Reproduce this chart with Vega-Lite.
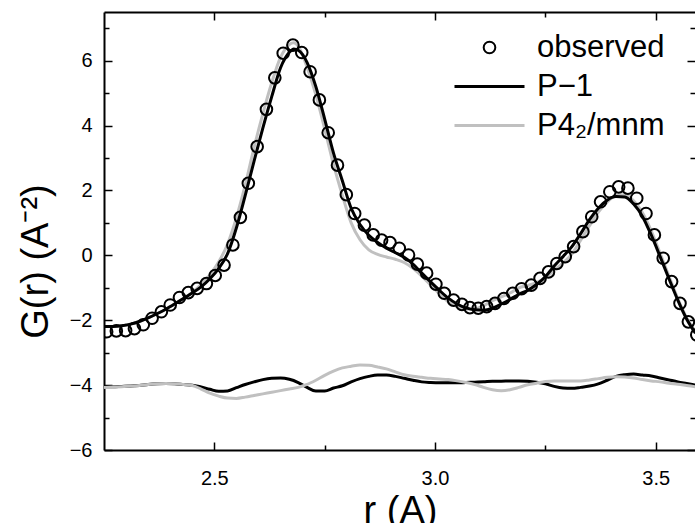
{
  "$schema": "https://vega.github.io/schema/vega-lite/v6.json",
  "autosize": "none",
  "width": 591,
  "height": 438,
  "padding": {"left": 104, "top": 12, "right": 0, "bottom": 73},
  "background": "white",
  "config": {
    "view": {"stroke": null},
    "axis": {"grid": false, "domainColor": "black", "domainWidth": 2, "tickColor": "black", "tickWidth": 1.5, "labelFont": "Liberation Sans", "labelFontSize": 20, "labelColor": "black", "titleFont": "Liberation Sans", "titleFontWeight": "normal", "titleColor": "black", "titleFontSize": 38}
  },
  "datasets": {
    "obs": [
      {"r": 2.256, "G": -2.355}, {"r": 2.278, "G": -2.33}, {"r": 2.299, "G": -2.32}, {"r": 2.319, "G": -2.26},
      {"r": 2.339, "G": -2.14}, {"r": 2.359, "G": -1.94}, {"r": 2.38, "G": -1.74}, {"r": 2.4, "G": -1.53},
      {"r": 2.421, "G": -1.3}, {"r": 2.441, "G": -1.15}, {"r": 2.461, "G": -1.02}, {"r": 2.482, "G": -0.87},
      {"r": 2.502, "G": -0.62}, {"r": 2.522, "G": -0.3}, {"r": 2.542, "G": 0.32}, {"r": 2.559, "G": 1.17},
      {"r": 2.577, "G": 2.22}, {"r": 2.597, "G": 3.35}, {"r": 2.618, "G": 4.5}, {"r": 2.637, "G": 5.47},
      {"r": 2.656, "G": 6.23}, {"r": 2.678, "G": 6.48}, {"r": 2.698, "G": 6.25}, {"r": 2.717, "G": 5.66},
      {"r": 2.738, "G": 4.79}, {"r": 2.758, "G": 3.78}, {"r": 2.779, "G": 2.78}, {"r": 2.799, "G": 1.87},
      {"r": 2.818, "G": 1.29}, {"r": 2.84, "G": 0.93}, {"r": 2.86, "G": 0.63}, {"r": 2.879, "G": 0.47},
      {"r": 2.898, "G": 0.39}, {"r": 2.919, "G": 0.22}, {"r": 2.94, "G": 0.01}, {"r": 2.96, "G": -0.27},
      {"r": 2.981, "G": -0.55}, {"r": 3.002, "G": -0.89}, {"r": 3.021, "G": -1.17}, {"r": 3.042, "G": -1.38},
      {"r": 3.061, "G": -1.51}, {"r": 3.079, "G": -1.61}, {"r": 3.098, "G": -1.63}, {"r": 3.117, "G": -1.58},
      {"r": 3.136, "G": -1.48}, {"r": 3.156, "G": -1.33}, {"r": 3.176, "G": -1.17}, {"r": 3.196, "G": -1.03},
      {"r": 3.218, "G": -0.92}, {"r": 3.238, "G": -0.71}, {"r": 3.257, "G": -0.51}, {"r": 3.276, "G": -0.25},
      {"r": 3.295, "G": -0.04}, {"r": 3.314, "G": 0.27}, {"r": 3.335, "G": 0.73}, {"r": 3.355, "G": 1.19},
      {"r": 3.375, "G": 1.65}, {"r": 3.396, "G": 1.96}, {"r": 3.416, "G": 2.11}, {"r": 3.437, "G": 2.07},
      {"r": 3.457, "G": 1.76}, {"r": 3.478, "G": 1.29}, {"r": 3.497, "G": 0.63}, {"r": 3.517, "G": -0.09},
      {"r": 3.536, "G": -0.81}, {"r": 3.555, "G": -1.48}, {"r": 3.574, "G": -2.05}, {"r": 3.593, "G": -2.45}
    ],
    "fit": [
      {"r": 2.25, "p1": -2.19, "p4": -2.19}, {"r": 2.27, "p1": -2.19, "p4": -2.19}, {"r": 2.29, "p1": -2.17, "p4": -2.17},
      {"r": 2.31, "p1": -2.12, "p4": -2.12}, {"r": 2.33, "p1": -2.04, "p4": -2.04}, {"r": 2.35, "p1": -1.93, "p4": -1.93},
      {"r": 2.37, "p1": -1.8, "p4": -1.8}, {"r": 2.39, "p1": -1.66, "p4": -1.66}, {"r": 2.41, "p1": -1.5, "p4": -1.5},
      {"r": 2.43, "p1": -1.33, "p4": -1.33}, {"r": 2.45, "p1": -1.16, "p4": -1.14}, {"r": 2.47, "p1": -0.97, "p4": -0.9},
      {"r": 2.49, "p1": -0.72, "p4": -0.6}, {"r": 2.51, "p1": -0.4, "p4": -0.2}, {"r": 2.53, "p1": 0.05, "p4": 0.35},
      {"r": 2.55, "p1": 0.85, "p4": 1.16}, {"r": 2.57, "p1": 1.85, "p4": 2.17}, {"r": 2.59, "p1": 2.9, "p4": 3.32},
      {"r": 2.61, "p1": 3.93, "p4": 4.37}, {"r": 2.63, "p1": 4.89, "p4": 5.32}, {"r": 2.65, "p1": 5.78, "p4": 6.1},
      {"r": 2.67, "p1": 6.26, "p4": 6.5}, {"r": 2.68, "p1": 6.36, "p4": 6.55}, {"r": 2.69, "p1": 6.32, "p4": 6.45},
      {"r": 2.71, "p1": 5.95, "p4": 5.8}, {"r": 2.73, "p1": 5.2, "p4": 4.95}, {"r": 2.75, "p1": 4.2, "p4": 3.9},
      {"r": 2.77, "p1": 3.15, "p4": 2.8}, {"r": 2.79, "p1": 2.3, "p4": 1.85}, {"r": 2.81, "p1": 1.45, "p4": 1.0},
      {"r": 2.83, "p1": 0.95, "p4": 0.48}, {"r": 2.85, "p1": 0.62, "p4": 0.17}, {"r": 2.87, "p1": 0.4, "p4": 0.03},
      {"r": 2.89, "p1": 0.22, "p4": -0.05}, {"r": 2.91, "p1": 0.08, "p4": -0.12}, {"r": 2.93, "p1": -0.06, "p4": -0.22},
      {"r": 2.95, "p1": -0.27, "p4": -0.4}, {"r": 2.97, "p1": -0.55, "p4": -0.64}, {"r": 2.99, "p1": -0.82, "p4": -0.91},
      {"r": 3.01, "p1": -1.08, "p4": -1.19}, {"r": 3.03, "p1": -1.32, "p4": -1.43}, {"r": 3.05, "p1": -1.5, "p4": -1.58},
      {"r": 3.07, "p1": -1.62, "p4": -1.66}, {"r": 3.09, "p1": -1.68, "p4": -1.65}, {"r": 3.11, "p1": -1.69, "p4": -1.55},
      {"r": 3.13, "p1": -1.63, "p4": -1.4}, {"r": 3.15, "p1": -1.5, "p4": -1.28}, {"r": 3.17, "p1": -1.36, "p4": -1.16},
      {"r": 3.19, "p1": -1.2, "p4": -1.0}, {"r": 3.21, "p1": -1.08, "p4": -0.93}, {"r": 3.23, "p1": -0.9, "p4": -0.84},
      {"r": 3.25, "p1": -0.66, "p4": -0.68}, {"r": 3.27, "p1": -0.33, "p4": -0.46}, {"r": 3.29, "p1": -0.04, "p4": -0.23},
      {"r": 3.31, "p1": 0.27, "p4": 0.04}, {"r": 3.33, "p1": 0.67, "p4": 0.47}, {"r": 3.35, "p1": 1.1, "p4": 0.91},
      {"r": 3.37, "p1": 1.45, "p4": 1.33}, {"r": 3.39, "p1": 1.7, "p4": 1.64}, {"r": 3.41, "p1": 1.81, "p4": 1.84},
      {"r": 3.43, "p1": 1.8, "p4": 1.87}, {"r": 3.45, "p1": 1.58, "p4": 1.68}, {"r": 3.47, "p1": 1.2, "p4": 1.31},
      {"r": 3.49, "p1": 0.62, "p4": 0.75}, {"r": 3.51, "p1": -0.04, "p4": 0.06}, {"r": 3.53, "p1": -0.72, "p4": -0.64},
      {"r": 3.55, "p1": -1.38, "p4": -1.33}, {"r": 3.57, "p1": -1.96, "p4": -1.92}, {"r": 3.59, "p1": -2.4, "p4": -2.35}
    ],
    "diff": [
      {"r": 2.25, "p1": -4.05, "p4": -4.07}, {"r": 2.27, "p1": -4.05, "p4": -4.06}, {"r": 2.29, "p1": -4.04, "p4": -4.05},
      {"r": 2.31, "p1": -4.03, "p4": -4.03}, {"r": 2.33, "p1": -4.01, "p4": -4.01}, {"r": 2.35, "p1": -3.98, "p4": -3.98},
      {"r": 2.37, "p1": -3.96, "p4": -3.96}, {"r": 2.39, "p1": -3.95, "p4": -3.95}, {"r": 2.41, "p1": -3.96, "p4": -3.96},
      {"r": 2.43, "p1": -3.98, "p4": -3.98}, {"r": 2.45, "p1": -4.0, "p4": -4.01}, {"r": 2.47, "p1": -4.06, "p4": -4.12},
      {"r": 2.49, "p1": -4.13, "p4": -4.25}, {"r": 2.51, "p1": -4.19, "p4": -4.34}, {"r": 2.53, "p1": -4.18, "p4": -4.4},
      {"r": 2.55, "p1": -4.08, "p4": -4.41}, {"r": 2.57, "p1": -3.98, "p4": -4.37}, {"r": 2.59, "p1": -3.9, "p4": -4.32},
      {"r": 2.61, "p1": -3.83, "p4": -4.27}, {"r": 2.63, "p1": -3.79, "p4": -4.22}, {"r": 2.65, "p1": -3.78, "p4": -4.17},
      {"r": 2.67, "p1": -3.82, "p4": -4.12}, {"r": 2.69, "p1": -3.92, "p4": -4.07}, {"r": 2.71, "p1": -4.07, "p4": -3.98},
      {"r": 2.73, "p1": -4.18, "p4": -3.85}, {"r": 2.75, "p1": -4.18, "p4": -3.7}, {"r": 2.77, "p1": -4.09, "p4": -3.57},
      {"r": 2.79, "p1": -4.02, "p4": -3.47}, {"r": 2.81, "p1": -3.9, "p4": -3.42}, {"r": 2.83, "p1": -3.8, "p4": -3.38},
      {"r": 2.85, "p1": -3.73, "p4": -3.39}, {"r": 2.87, "p1": -3.69, "p4": -3.44}, {"r": 2.89, "p1": -3.69, "p4": -3.5},
      {"r": 2.91, "p1": -3.73, "p4": -3.59}, {"r": 2.93, "p1": -3.79, "p4": -3.68}, {"r": 2.95, "p1": -3.85, "p4": -3.73},
      {"r": 2.97, "p1": -3.9, "p4": -3.76}, {"r": 2.99, "p1": -3.92, "p4": -3.79}, {"r": 3.01, "p1": -3.93, "p4": -3.81},
      {"r": 3.03, "p1": -3.93, "p4": -3.83}, {"r": 3.05, "p1": -3.93, "p4": -3.87}, {"r": 3.07, "p1": -3.92, "p4": -3.92},
      {"r": 3.09, "p1": -3.91, "p4": -3.98}, {"r": 3.11, "p1": -3.9, "p4": -4.07}, {"r": 3.13, "p1": -3.88, "p4": -4.14},
      {"r": 3.15, "p1": -3.88, "p4": -4.17}, {"r": 3.17, "p1": -3.87, "p4": -4.14}, {"r": 3.19, "p1": -3.87, "p4": -4.07},
      {"r": 3.21, "p1": -3.88, "p4": -3.99}, {"r": 3.23, "p1": -3.91, "p4": -3.94}, {"r": 3.25, "p1": -3.96, "p4": -3.89},
      {"r": 3.27, "p1": -4.04, "p4": -3.87}, {"r": 3.29, "p1": -4.09, "p4": -3.87}, {"r": 3.31, "p1": -4.1, "p4": -3.87},
      {"r": 3.33, "p1": -4.07, "p4": -3.87}, {"r": 3.35, "p1": -4.03, "p4": -3.84}, {"r": 3.37, "p1": -3.96, "p4": -3.8},
      {"r": 3.39, "p1": -3.85, "p4": -3.76}, {"r": 3.41, "p1": -3.73, "p4": -3.74}, {"r": 3.43, "p1": -3.68, "p4": -3.75},
      {"r": 3.45, "p1": -3.66, "p4": -3.78}, {"r": 3.47, "p1": -3.69, "p4": -3.83}, {"r": 3.49, "p1": -3.72, "p4": -3.87},
      {"r": 3.51, "p1": -3.78, "p4": -3.9}, {"r": 3.53, "p1": -3.84, "p4": -3.94}, {"r": 3.55, "p1": -3.9, "p4": -3.97},
      {"r": 3.57, "p1": -3.95, "p4": -4.01}, {"r": 3.59, "p1": -4.0, "p4": -4.05}
    ]
  },
  "resolve": {"axis": {"x": "independent", "y": "independent"}},
  "layer": [
    {
      "data": {"name": "diff"},
      "transform": [{"fold": ["p1", "p4"], "as": ["model", "D"]}],
      "mark": {"type": "line", "strokeWidth": 3, "clip": true, "interpolate": "monotone"},
      "encoding": {
        "x": {"field": "r", "type": "quantitative", "scale": {"domain": [2.25, 3.589], "nice": false, "zero": false},
          "axis": {"orient": "bottom", "values": [2.75, 3.25], "tickSize": -5, "labels": false, "domain": false, "title": null}},
        "y": {"field": "D", "type": "quantitative", "scale": {"domain": [-6, 7.5], "nice": false, "zero": false},
          "axis": {"orient": "left", "values": [-5, -3, -1, 1, 3, 5, 7], "tickSize": -5, "labels": false, "domain": false, "title": null}},
        "color": {"field": "model", "type": "nominal", "title": null},
        "detail": {"field": "model"}
      }
    },
    {
      "data": {"name": "fit"},
      "transform": [{"fold": ["p4", "p1"], "as": ["model", "G"]}],
      "mark": {"type": "line", "strokeWidth": 3, "clip": true, "interpolate": "monotone"},
      "encoding": {
        "x": {"field": "r", "type": "quantitative",
          "axis": {"orient": "top", "values": [2.75, 3.25], "tickSize": -5, "labels": false, "domain": false, "title": null}},
        "y": {"field": "G", "type": "quantitative",
          "axis": {"orient": "right", "values": [-5, -3, -1, 1, 3, 5, 7], "tickSize": -5, "labels": false, "domain": false, "title": null}},
        "color": {"field": "model", "type": "nominal", "title": null},
        "detail": {"field": "model"}
      }
    },
    {
      "mark": {"type": "rule", "stroke": "#555555", "strokeWidth": 1.2},
      "encoding": {
        "x": {"datum": 2.25, "type": "quantitative",
          "axis": {"orient": "top", "values": [2.5, 3.0, 3.5], "tickSize": -8, "labels": false, "domain": true, "title": null}},
        "x2": {"datum": 3.589},
        "y": {"datum": -4, "type": "quantitative",
          "axis": {"orient": "right", "values": [-6, -4, -2, 0, 2, 4, 6], "tickSize": -8, "labels": false, "domain": false, "title": null}}
      }
    },
    {
      "data": {"name": "obs"},
      "mark": {"type": "point", "filled": false, "clip": true, "opacity": 1},
      "encoding": {
        "x": {"field": "r", "type": "quantitative",
          "axis": {"orient": "bottom", "values": [2.5, 3.0, 3.5], "format": ".1f", "tickSize": -8, "labelPadding": 26, "title": "r (A)", "titleX": 296, "titleY": 72, "titleBaseline": "alphabetic", "titleAlign": "center"}},
        "y": {"field": "G", "type": "quantitative",
          "axis": {"orient": "left", "values": [-6, -4, -2, 0, 2, 4, 6], "tickSize": -8, "labelPadding": 20, "title": "G(r) (A⁻²)", "titleX": -57, "titleY": 249, "titleAngle": -90, "titleBaseline": "alphabetic", "titleAlign": "center"}},
        "color": {"datum": "observed", "type": "nominal", "title": null,
          "scale": {"domain": ["observed", "p1", "p4"], "range": ["#000000", "#000000", "#c0c0c0"]},
          "legend": {"orient": "none", "legendX": 349, "legendY": 20, "title": null, "padding": 0,
            "labelFont": "Liberation Sans", "labelFontSize": 31, "labelColor": "black", "labelOffset": 11,
            "rowPadding": 7, "clipHeight": 31,
            "labelExpr": "datum.value == 'p1' ? 'P−1' : datum.value == 'p4' ? 'P4₂/mnm' : datum.value"}},
        "shape": {"datum": "observed", "type": "nominal", "title": null,
          "scale": {"domain": ["observed", "p1", "p4"], "range": ["circle", "stroke", "stroke"]}},
        "size": {"datum": "observed", "type": "nominal", "title": null,
          "scale": {"type": "ordinal", "domain": ["observed", "p1", "p4"], "range": [135, 4900, 4900]}},
        "strokeWidth": {"datum": "observed", "type": "nominal", "title": null,
          "scale": {"type": "ordinal", "domain": ["observed", "p1", "p4"], "range": [2, 3, 3]}}
      }
    }
  ]
}
